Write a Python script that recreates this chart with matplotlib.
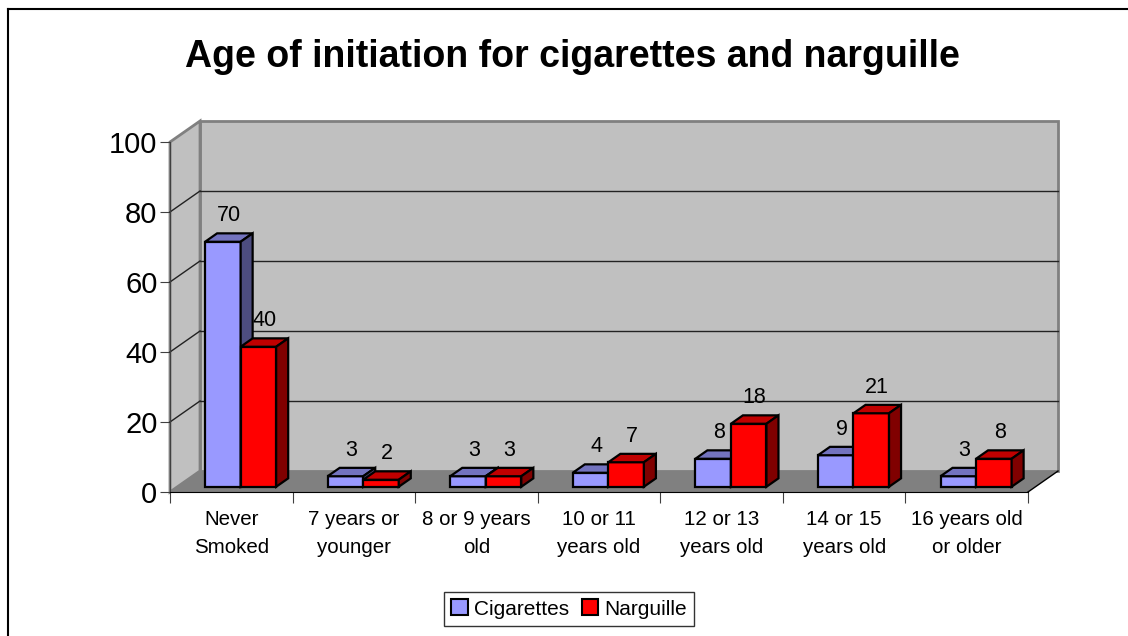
import matplotlib
matplotlib.use("Agg")
import matplotlib.pyplot as plt
from matplotlib.patches import Polygon, Patch
from matplotlib.lines import Line2D

plt.rcParams['font.family'] = ['Liberation Sans', 'DejaVu Sans']

## --- data
categories = ["Never\nSmoked", "7 years or\nyounger", "8 or 9 years\nold",
              "10 or 11\nyears old", "12 or 13\nyears old", "14 or 15\nyears old",
              "16 years old\nor older"]
cigarettes = [70, 3, 3, 4, 8, 9, 3]
narguille = [40, 2, 3, 7, 18, 21, 8]
series_names = ["Cigarettes", "Narguille"]
yticks = [0, 20, 40, 60, 80, 100]

# colours: front, top, side
cig_cols = ("#9999ff", "#7373bf", "#4d4d80")
nar_cols = ("#ff0000", "#c00000", "#800000")

## --- 3d-ish geometry (data units)
dxw, dyw = 0.245, 6.0      # depth of the walls
f0, f1 = 0.25, 0.65        # bar front / back position within depth
bw = 0.29                  # bar width
start = 0.225              # left of first bar inside a category

fig = plt.figure(figsize=(11.28, 6.36), dpi=100)
ax = fig.add_axes([170/1128, 1-492/636, 858/1128, 350/636])
ax.set_xlim(0, 7)
ax.set_ylim(0, 100)
ax.patch.set_visible(False)

n = len(categories)
wall_c = "#c0c0c0"
edge_c = "#808080"

# back wall
ax.add_patch(Polygon([(dxw, dyw), (n+dxw, dyw), (n+dxw, 100+dyw), (dxw, 100+dyw)],
                     closed=True, fc=wall_c, ec=edge_c, lw=2, clip_on=False, zorder=1))
# left wall
ax.add_patch(Polygon([(0, 0), (dxw, dyw), (dxw, 100+dyw), (0, 100)],
                     closed=True, fc=wall_c, ec=edge_c, lw=2, clip_on=False, zorder=1))
# floor
ax.add_patch(Polygon([(0, 0), (n, 0), (n+dxw, dyw), (dxw, dyw)],
                     closed=True, fc="#808080", ec="none", clip_on=False, zorder=1.5))
ax.plot([n, n+dxw], [0, dyw], color="black", lw=1, clip_on=False, zorder=2)

# gridlines
for v in yticks[1:-1]:
    ax.plot([dxw, n+dxw], [v+dyw, v+dyw], color="#222222", lw=1, clip_on=False, zorder=2)
    ax.plot([0, dxw], [v, v+dyw], color="#222222", lw=1, clip_on=False, zorder=2)


def bar3d(x0, v, cols):
    ox, oy = f0*dxw, f0*dyw
    ddx, ddy = (f1-f0)*dxw, (f1-f0)*dyw
    front = [(x0+ox, oy), (x0+ox+bw, oy), (x0+ox+bw, oy+v), (x0+ox, oy+v)]
    top = [(x0+ox, oy+v), (x0+ox+bw, oy+v), (x0+ox+bw+ddx, oy+v+ddy), (x0+ox+ddx, oy+v+ddy)]
    side = [(x0+ox+bw, oy), (x0+ox+bw+ddx, oy+ddy), (x0+ox+bw+ddx, oy+v+ddy), (x0+ox+bw, oy+v)]
    for pts, c in zip([front, top, side], cols):
        ax.add_patch(Polygon(pts, closed=True, fc=c, ec="black", lw=1.6,
                             joinstyle="miter", clip_on=False, zorder=3))
    ax.annotate(str(v), (x0+ox+bw/2+ddx/2, oy+v+ddy), xytext=(0, 5),
                textcoords="offset points", ha="center", va="bottom",
                fontsize=15.5, zorder=4)


for i in range(n):
    bar3d(i+start, cigarettes[i], cig_cols)
    bar3d(i+start+bw, narguille[i], nar_cols)

# axes
for s in ["top", "right"]:
    ax.spines[s].set_visible(False)
ax.spines["left"].set_color("#404040")
ax.spines["bottom"].set_color("black")
ax.spines["left"].set_zorder(2.5)
ax.spines["bottom"].set_zorder(2.5)
ax.set_yticks(yticks)
ax.set_yticklabels([str(t) for t in yticks], fontsize=21)
ax.tick_params(axis="y", length=7, color="#404040", pad=2)
ax.set_xticks(range(n+1))
ax.set_xticklabels([])
ax.set_xticks([i+0.5 for i in range(n)], minor=True)
ax.set_xticklabels(categories, minor=True, fontsize=14.8, linespacing=1.6)
ax.tick_params(axis="x", which="major", length=8, color="#404040")
ax.tick_params(axis="x", which="minor", length=0, pad=13)

fig.text(572/1128, 1-57/636, "Age of initiation for cigarettes and narguille",
         ha="center", va="center", fontsize=27, fontweight="bold")

handles = [Patch(fc=cig_cols[0], ec="black", lw=1.5), Patch(fc=nar_cols[0], ec="black", lw=1.5)]
leg = fig.legend(handles, series_names, loc="center", bbox_to_anchor=(569/1128, 1-609/636),
                 ncol=2, fontsize=15, frameon=True, fancybox=False, shadow=False,
                 handlelength=0.8, handleheight=0.8, handletextpad=0.3,
                 columnspacing=0.6, borderpad=0.35, borderaxespad=0)
leg.get_frame().set_edgecolor("black")
leg.get_frame().set_linewidth(1)

# outer chart border (cropped on right and bottom)
fig.add_artist(Line2D([8/1128, 8/1128], [0, 1-9/636], color="black", lw=1.5))
fig.add_artist(Line2D([8/1128, 1], [1-9/636, 1-9/636], color="black", lw=1.5))

fig.savefig("out.png", dpi=100)
